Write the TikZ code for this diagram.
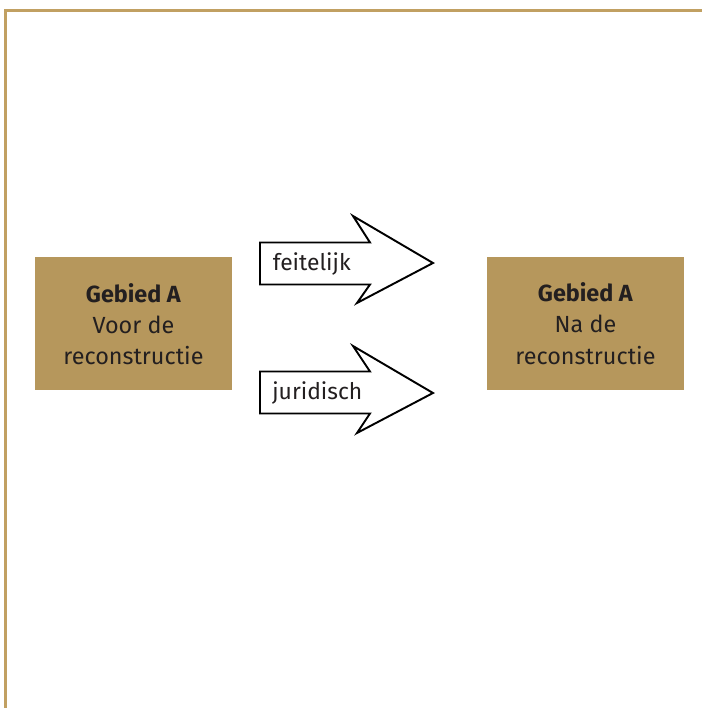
\documentclass[tikz,border=0pt]{standalone}
\usepackage{fontspec}
\setmainfont{Fira Sans}
\usetikzlibrary{positioning}
\definecolor{gebiedgold}{RGB}{182,151,92}
\definecolor{framegold}{RGB}{193,160,98}
\definecolor{textdark}{RGB}{35,31,32}

\begin{document}
\begin{tikzpicture}[
    frame/.style={draw=framegold, line width=1.2pt},
    gebied/.style={rectangle, fill=gebiedgold, minimum width=3.94cm, minimum height=2.66cm, align=center, text=textdark, font=\fontsize{13.3}{17.8}\selectfont},
    blockarrow/.style={draw=black, fill=white, line width=1.1pt, line join=miter},
    arrowlabel/.style={anchor=west, inner sep=0pt, text=textdark, font=\fontsize{13}{15}\selectfont}
]
\useasboundingbox (0,0) rectangle (14.04,14.16);

% Frame
\draw[frame] (0.11,0) -- (0.11,13.95) -- (14.04,13.95);

% Areas
\node[gebied] (voor) at (2.67,7.68) {\textbf{Gebied A}\\Voor de\\reconstructie};
\node[gebied] (na) at (11.71,7.69) {\textbf{Gebied A}\\Na de\\reconstructie};

% Block arrows
\draw[blockarrow] (5.20,9.31) -- (7.40,9.31) -- (7.06,9.84) -- (8.66,8.90) -- (7.14,8.10) -- (7.40,8.47) -- (5.20,8.47) -- cycle;
\draw[blockarrow] (5.20,6.73) -- (7.40,6.73) -- (7.06,7.24) -- (8.66,6.30) -- (7.14,5.50) -- (7.40,5.89) -- (5.20,5.89) -- cycle;

\node[arrowlabel] (feitelijk) at (5.45,8.88) {feitelijk};
\node[arrowlabel] (juridisch) at (5.44,6.30) {juridisch};

\end{tikzpicture}
\end{document}
